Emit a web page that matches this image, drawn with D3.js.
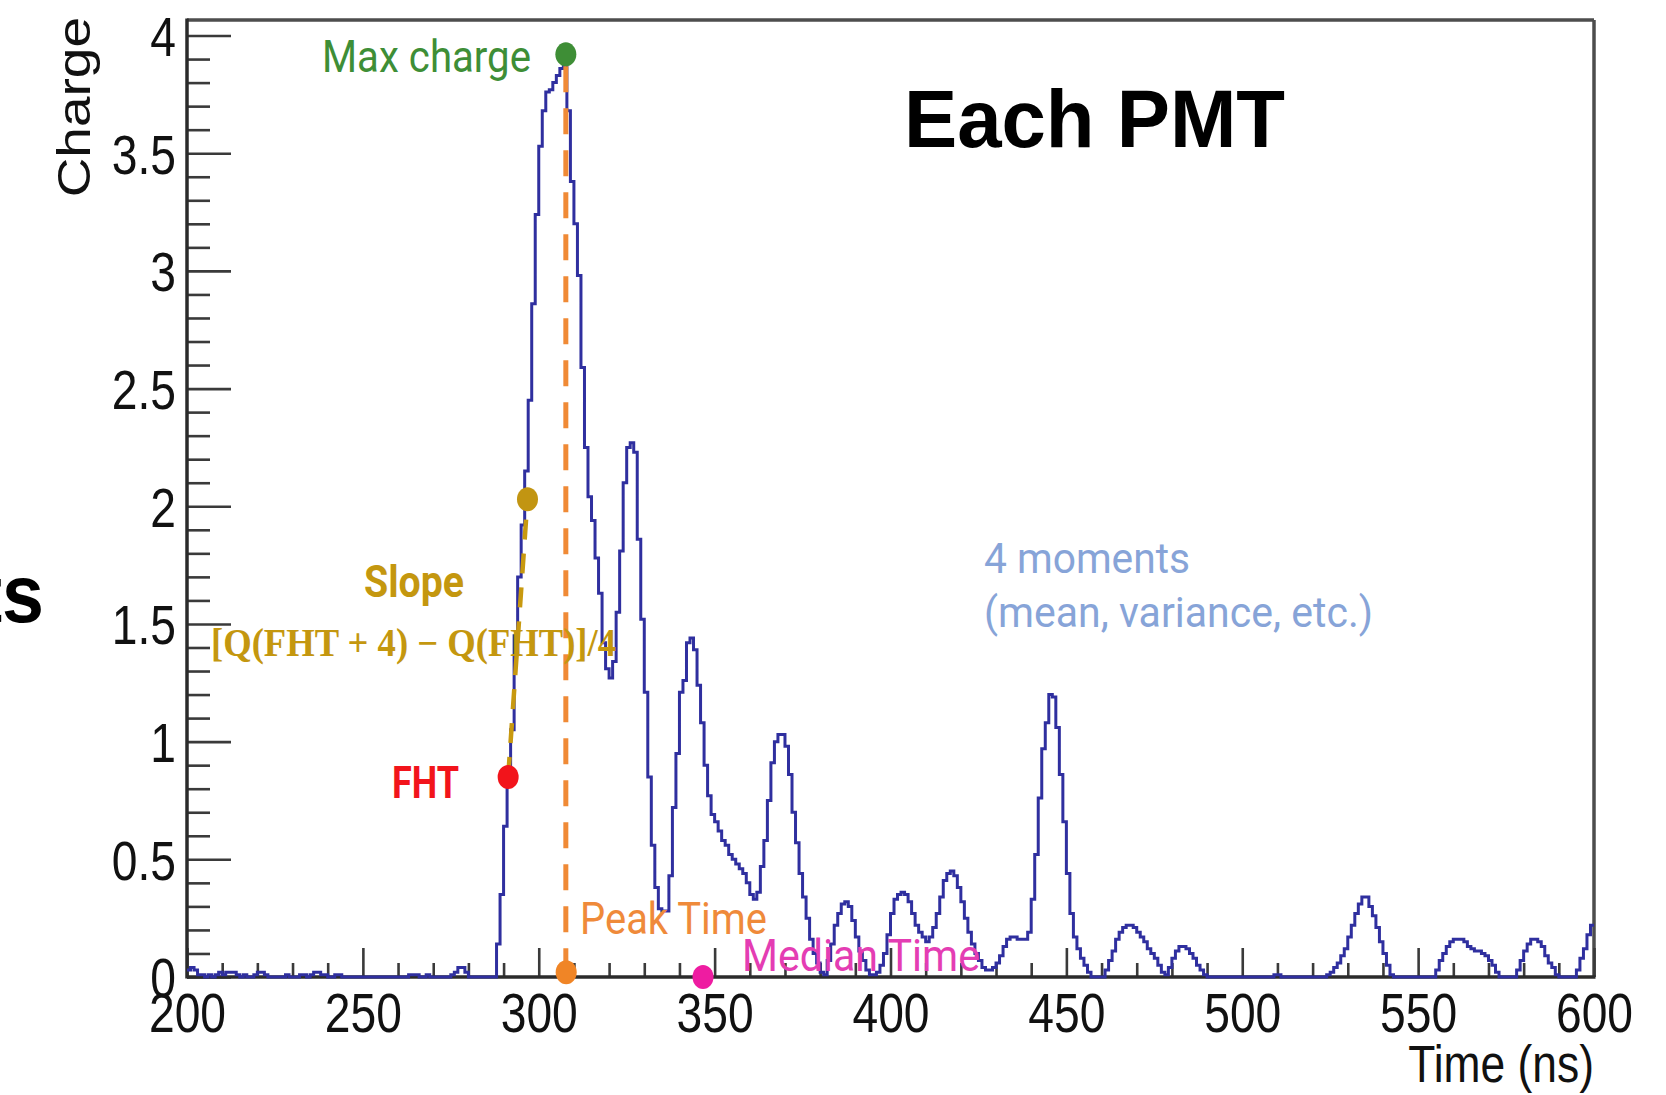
<!DOCTYPE html>
<html>
<head>
<meta charset="utf-8">
<script src="https://cdn.jsdelivr.net/npm/d3@7"></script>
<style>
  html, body { margin: 0; padding: 0; background: #ffffff; }
  svg { display: block; }
</style>
</head>
<body>
<svg id="chart" width="1666" height="1095"></svg>
<script>
// ---------------- data ----------------
const binStart = 200;   // ns, low edge of first bin
const binWidth = 1;     // ns
// charge per 1-ns bin, 200 ... 599 ns
const charge = [
  0.03, 0.04, 0.03, 0.01, 0.01, 0.00, 0.01, 0.00, 0.01, 0.02, // 200
  0.01, 0.02, 0.02, 0.02, 0.01, 0.00, 0.01, 0.00, 0.00, 0.01, // 210
  0.02, 0.02, 0.01, 0.00, 0.00, 0.00, 0.00, 0.00, 0.01, 0.00, // 220
  0.00, 0.00, 0.01, 0.01, 0.00, 0.01, 0.02, 0.02, 0.01, 0.01, // 230
  0.00, 0.00, 0.01, 0.01, 0.00, 0.00, 0.00, 0.00, 0.00, 0.00, // 240
  0.00, 0.00, 0.00, 0.00, 0.00, 0.00, 0.00, 0.00, 0.00, 0.00, // 250
  0.00, 0.00, 0.00, 0.01, 0.01, 0.01, 0.00, 0.00, 0.01, 0.00, // 260
  0.00, 0.00, 0.00, 0.00, 0.00, 0.01, 0.02, 0.04, 0.04, 0.02, // 270
  0.00, 0.00, 0.00, 0.00, 0.00, 0.00, 0.00, 0.00, 0.14, 0.35, // 280
  0.64, 0.86, 1.05, 1.45, 1.70, 1.92, 2.15, 2.45, 2.86, 3.24, // 290
  3.53, 3.68, 3.76, 3.77, 3.80, 3.83, 3.86, 3.92, 3.68, 3.38, // 300
  3.20, 2.98, 2.59, 2.25, 2.04, 1.94, 1.78, 1.63, 1.42, 1.31, // 310
  1.27, 1.34, 1.55, 1.81, 2.10, 2.25, 2.27, 2.23, 1.86, 1.52, // 320
  1.21, 0.85, 0.56, 0.38, 0.29, 0.28, 0.28, 0.43, 0.72, 0.95, // 330
  1.21, 1.26, 1.42, 1.44, 1.39, 1.24, 1.08, 0.90, 0.77, 0.69, // 340
  0.66, 0.62, 0.58, 0.56, 0.52, 0.50, 0.48, 0.46, 0.44, 0.40, // 350
  0.35, 0.33, 0.36, 0.47, 0.58, 0.75, 0.91, 1.00, 1.03, 1.03, // 360
  0.98, 0.86, 0.70, 0.57, 0.44, 0.34, 0.25, 0.16, 0.10, 0.06, // 370
  0.02, 0.01, 0.07, 0.14, 0.22, 0.27, 0.31, 0.32, 0.30, 0.24, // 380
  0.17, 0.11, 0.07, 0.03, 0.01, 0.01, 0.02, 0.05, 0.10, 0.18, // 390
  0.27, 0.33, 0.35, 0.36, 0.35, 0.32, 0.27, 0.22, 0.19, 0.17, // 400
  0.15, 0.17, 0.21, 0.27, 0.34, 0.41, 0.44, 0.45, 0.43, 0.38, // 410
  0.32, 0.25, 0.19, 0.14, 0.10, 0.07, 0.04, 0.03, 0.03, 0.04, // 420
  0.06, 0.09, 0.13, 0.16, 0.17, 0.17, 0.16, 0.16, 0.16, 0.19, // 430
  0.33, 0.52, 0.76, 0.97, 1.08, 1.20, 1.19, 1.06, 0.86, 0.66, // 440
  0.44, 0.27, 0.17, 0.12, 0.08, 0.05, 0.02, 0.00, 0.00, 0.00, // 450
  0.00, 0.03, 0.07, 0.11, 0.16, 0.19, 0.21, 0.22, 0.22, 0.21, // 460
  0.19, 0.17, 0.15, 0.12, 0.10, 0.08, 0.05, 0.02, 0.01, 0.04, // 470
  0.08, 0.11, 0.13, 0.13, 0.12, 0.10, 0.08, 0.05, 0.03, 0.01, // 480
  0.00, 0.00, 0.00, 0.00, 0.00, 0.00, 0.00, 0.00, 0.00, 0.00, // 490
  0.00, 0.00, 0.00, 0.00, 0.00, 0.00, 0.00, 0.00, 0.00, 0.01, // 500
  0.01, 0.00, 0.00, 0.00, 0.00, 0.00, 0.00, 0.00, 0.00, 0.00, // 510
  0.00, 0.00, 0.00, 0.00, 0.01, 0.02, 0.04, 0.06, 0.09, 0.12, // 520
  0.17, 0.22, 0.27, 0.31, 0.34, 0.34, 0.30, 0.26, 0.21, 0.15, // 530
  0.10, 0.05, 0.01, 0.00, 0.00, 0.00, 0.00, 0.00, 0.00, 0.00, // 540
  0.00, 0.00, 0.00, 0.00, 0.00, 0.03, 0.07, 0.10, 0.13, 0.15, // 550
  0.16, 0.16, 0.16, 0.15, 0.13, 0.12, 0.11, 0.11, 0.10, 0.09, // 560
  0.07, 0.05, 0.02, 0.00, 0.00, 0.00, 0.00, 0.00, 0.03, 0.07, // 570
  0.11, 0.14, 0.16, 0.16, 0.15, 0.13, 0.09, 0.06, 0.04, 0.01, // 580
  0.00, 0.00, 0.00, 0.00, 0.00, 0.03, 0.08, 0.12, 0.18, 0.22  // 590
];

const xDomain = [200, 600];
const yDomain = [0, 4.066];
const xTickValues = [200, 250, 300, 350, 400, 450, 500, 550, 600];
const xTickLabels = ["200", "250", "300", "350", "400", "450", "500", "550", "600"];
const yTickValues = [0, 0.5, 1, 1.5, 2, 2.5, 3, 3.5, 4];
const yTickLabels = ["0", "0.5", "1", "1.5", "2", "2.5", "3", "3.5", "4"];
const xMinorStep = 10;
const yMinorStep = 0.1;

const xTitle = "Time (ns)";
const yTitle = "Charge";

// feature markers on the waveform
const markerNames   = ["Max charge", "Slope", "FHT", "Peak Time", "Median Time"];
const markerTimes   = [307.7, 296.8, 291.3, 307.8, 346.7];
const markerCharges = [3.92, 2.03, 0.85, 0.02, 0.00];
const markerColors  = ["#3e8e36", "#c29512", "#f2141b", "#f08526", "#ee1ca1"];

const slopeFormula = "[Q(FHT + 4) \u2212 Q(FHT)]/4";
const momentsLines = ["4 moments", "(mean, variance, etc.)"];
const headline = "Each PMT";
const cutWord = "ts";

// ---------------- drawing ----------------
const svg = d3.select("#chart");
const W = 1666, H = 1095;
const plotLeft = 187, plotRight = 1594, plotTop = 20, plotBottom = 977;

const x = d3.scaleLinear().domain(xDomain).range([plotLeft, plotRight]);
const y = d3.scaleLinear().domain(yDomain).range([plotBottom, plotTop]);

svg.append("rect").attr("width", W).attr("height", H).attr("fill", "#ffffff");

const squeeze = 0.84;
function compress(sel, k) {
  sel.each(function () {
    const L = this.getComputedTextLength();
    d3.select(this).attr("textLength", L * k).attr("lengthAdjust", "spacingAndGlyphs");
  });
}

// frame (top and right)
svg.append("line").attr("x1", plotLeft).attr("x2", plotRight).attr("y1", plotTop).attr("y2", plotTop)
  .attr("stroke", "#4d4d4d").attr("stroke-width", 3.5);
svg.append("line").attr("x1", plotRight).attr("x2", plotRight).attr("y1", plotTop).attr("y2", plotBottom)
  .attr("stroke", "#4d4d4d").attr("stroke-width", 3.5);

// minor ticks
const yMinor = d3.range(0, yDomain[1], yMinorStep).filter(v => Math.abs(v / 0.5 - Math.round(v / 0.5)) > 1e-6);
const xMinor = d3.range(xDomain[0], xDomain[1], xMinorStep).filter(v => v % 50 !== 0);

const gYMinor = svg.append("g").attr("transform", `translate(${plotLeft},0)`)
  .call(d3.axisLeft(y).tickValues(yMinor).tickSize(-23).tickFormat(""));
const gXMinor = svg.append("g").attr("transform", `translate(0,${plotBottom})`)
  .call(d3.axisBottom(x).tickValues(xMinor).tickSize(-14).tickFormat(""));

// major ticks + labels
const gY = svg.append("g").attr("transform", `translate(${plotLeft},0)`)
  .call(d3.axisLeft(y).tickValues(yTickValues).tickSize(-44).tickPadding(11)
    .tickFormat((d, i) => yTickLabels[i]));
const gX = svg.append("g").attr("transform", `translate(0,${plotBottom})`)
  .call(d3.axisBottom(x).tickValues(xTickValues).tickSize(-29).tickPadding(16)
    .tickFormat((d, i) => xTickLabels[i]));

[gYMinor, gXMinor, gY, gX].forEach(g => {
  g.select(".domain").remove();
  g.selectAll(".tick line").attr("stroke", "#3a3a3a").attr("stroke-width", 2.6);
});
[gY, gX].forEach(g => {
  g.selectAll(".tick text")
    .attr("fill", "#111")
    .style("font-family", "'Liberation Sans', Arial, Helvetica, sans-serif")
    .style("font-size", "55px");
});
gY.selectAll(".tick text").attr("dy", "0.36em");
compress(gY.selectAll(".tick text"), squeeze);
compress(gX.selectAll(".tick text"), squeeze);

// axis lines
svg.append("line").attr("x1", plotLeft).attr("x2", plotLeft).attr("y1", plotTop - 1.5).attr("y2", plotBottom + 1.5)
  .attr("stroke", "#2b2b2b").attr("stroke-width", 3.5);
svg.append("line").attr("x1", plotLeft).attr("x2", plotRight + 1.5).attr("y1", plotBottom).attr("y2", plotBottom)
  .attr("stroke", "#2b2b2b").attr("stroke-width", 3.5);

// axis titles
svg.append("text").text(xTitle)
  .attr("x", plotRight).attr("y", 1082).attr("text-anchor", "end")
  .attr("fill", "#111")
  .style("font-family", "'Liberation Sans', Arial, Helvetica, sans-serif")
  .style("font-size", "51px")
  .call(s => compress(s, 0.87));
svg.append("text").text(yTitle)
  .attr("transform", `translate(90,17) scale(${squeeze},1) rotate(-90)`)
  .attr("text-anchor", "end")
  .attr("fill", "#111")
  .style("font-family", "'Liberation Sans', Arial, Helvetica, sans-serif")
  .style("font-size", "55px");

// histogram (step line)
const pts = charge.map((q, i) => ({ t: binStart + i * binWidth, q }));
pts.push({ t: binStart + charge.length * binWidth, q: charge[charge.length - 1] });
const stepLine = d3.line().x(d => x(d.t)).y(d => y(d.q)).curve(d3.curveStepAfter);
svg.append("path").datum(pts)
  .attr("d", stepLine)
  .attr("fill", "none")
  .attr("stroke", "#2f2f9f")
  .attr("stroke-width", 3)
  .attr("stroke-linejoin", "miter");

// dashed guide lines
svg.append("line")
  .attr("x1", x(markerTimes[0])).attr("x2", x(markerTimes[0]))
  .attr("y1", y(markerCharges[0] - 0.05)).attr("y2", y(markerCharges[3]))
  .attr("stroke", "#f08a36").attr("stroke-width", 5).attr("stroke-dasharray", "26 16");
svg.append("line")
  .attr("x1", x(markerTimes[2])).attr("y1", y(markerCharges[2]))
  .attr("x2", x(markerTimes[1])).attr("y2", y(markerCharges[1]))
  .attr("stroke", "#c8990f").attr("stroke-width", 4.5).attr("stroke-dasharray", "20 14");

// annotation text
const annoFont = "Roboto, 'Open Sans', 'Liberation Sans', sans-serif";
function label(txt, xl, xr, base, size, color, weight, extra) {
  const t = svg.append("text").text(txt)
    .attr("x", xl).attr("y", base)
    .attr("fill", color)
    .attr("textLength", xr - xl).attr("lengthAdjust", "spacingAndGlyphs")
    .style("font-family", annoFont)
    .style("font-weight", weight)
    .style("font-size", size + "px");
  if (extra) extra(t);
  return t;
}
label(markerNames[0], 322, 531, 72, 44, "#3e8e36", "normal");
label(markerNames[1], 364, 464, 597, 44, "#c4970f", "bold");
label(slopeFormula, 211, 616, 656, 39, "#c4970f", "bold",
  t => t.style("font-family", "'Liberation Serif', 'DejaVu Serif', serif"));
label(markerNames[2], 392, 459, 798, 45, "#f2141b", "bold");
label(markerNames[3], 580, 767, 934, 45, "#ef8a3a", "normal");
label(markerNames[4], 742, 980, 971, 45, "#e43db3", "normal");
label(momentsLines[0], 984, 1190, 573, 42, "#87a4d8", "normal");
label(momentsLines[1], 984, 1373, 627, 42, "#87a4d8", "normal");

// headline texts
svg.append("text").text(headline)
  .attr("x", 904).attr("y", 147)
  .attr("textLength", 381).attr("lengthAdjust", "spacingAndGlyphs")
  .attr("fill", "#000")
  .style("font-family", "'Liberation Sans', Arial, Helvetica, sans-serif")
  .style("font-weight", "bold").style("font-size", "82px");
svg.append("text").text(cutWord)
  .attr("x", 44).attr("y", 622).attr("text-anchor", "end")
  .attr("fill", "#000")
  .style("font-family", "'Liberation Sans', Arial, Helvetica, sans-serif")
  .style("font-weight", "bold").style("font-size", "82px")
  .call(s => compress(s, 0.92));

// marker dots
svg.append("g").selectAll("ellipse")
  .data(markerNames.map((n, i) => ({ n, t: markerTimes[i], q: markerCharges[i], c: markerColors[i] })))
  .join("ellipse")
  .attr("cx", d => x(d.t)).attr("cy", d => y(d.q))
  .attr("rx", 10.5).attr("ry", 12)
  .attr("fill", d => d.c);
</script>
</body>
</html>
